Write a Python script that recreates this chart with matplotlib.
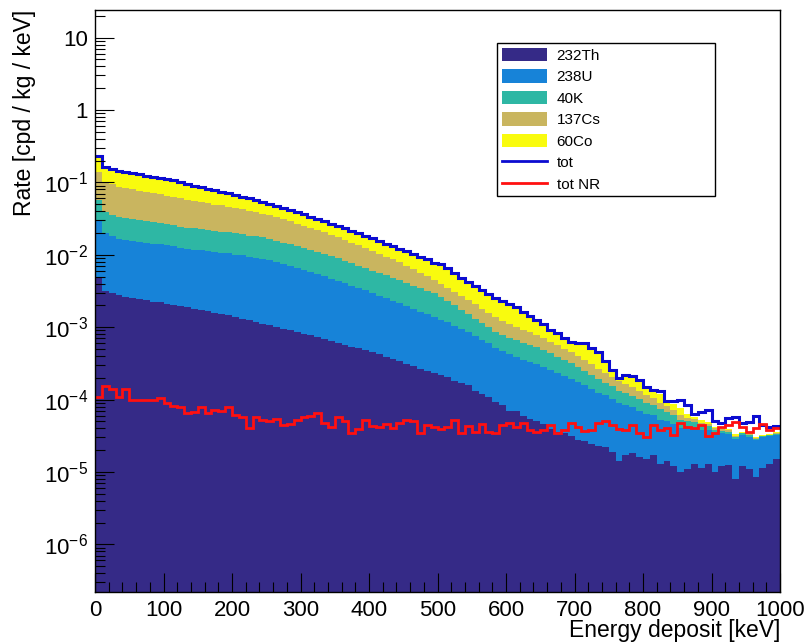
import matplotlib
matplotlib.use('Agg')
import matplotlib.pyplot as plt
import numpy as np
from matplotlib.patches import Patch
from matplotlib.lines import Line2D
from matplotlib.ticker import FixedLocator, FuncFormatter, LogLocator, MultipleLocator, NullFormatter

plt.rcParams['font.family'] = ['Liberation Sans', 'DejaVu Sans']
plt.rcParams['mathtext.fontset'] = 'custom'
plt.rcParams['mathtext.rm'] = 'Liberation Sans'
plt.rcParams['mathtext.it'] = 'Liberation Sans:italic'
plt.rcParams['mathtext.bf'] = 'Liberation Sans:bold'

# 10 keV bins, 0 - 1000 keV
edges = np.arange(0, 1001, 10)

th232 = [4.8e-3, 3.2e-3, 2.95e-3, 2.75e-3, 2.6e-3, 2.5e-3, 2.45e-3, 2.35e-3, 2.25e-3, 2.2e-3,
         2.12e-3, 2.05e-3, 1.95e-3, 1.88e-3, 1.80e-3, 1.72e-3, 1.66e-3, 1.58e-3, 1.50e-3, 1.45e-3,
         1.38e-3, 1.30e-3, 1.24e-3, 1.16e-3, 1.12e-3, 1.06e-3, 1.01e-3, 9.5e-4, 9.0e-4, 8.6e-4,
         8.1e-4, 7.7e-4, 7.2e-4, 6.8e-4, 6.4e-4, 6.0e-4, 5.7e-4, 5.4e-4, 5.1e-4, 4.8e-4,
         4.5e-4, 4.2e-4, 3.9e-4, 3.6e-4, 3.4e-4, 3.1e-4, 2.9e-4, 2.65e-4, 2.45e-4, 2.3e-4,
         2.15e-4, 2.05e-4, 1.8e-4, 1.7e-4, 1.6e-4, 1.3e-4, 1.2e-4, 1.1e-4, 9.2e-5, 8.4e-5,
         7.0e-5, 6.9e-5, 6.0e-5, 5.4e-5, 5.0e-5, 4.6e-5, 3.9e-5, 3.6e-5, 3.4e-5, 3.1e-5,
         2.8e-5, 2.7e-5, 2.4e-5, 2.3e-5, 2.2e-5, 1.9e-5, 1.4e-5, 1.7e-5, 1.8e-5, 1.6e-5,
         1.5e-5, 1.7e-5, 1.3e-5, 1.4e-5, 1.2e-5, 1.0e-5, 1.1e-5, 1.3e-5, 1.15e-5, 1.3e-5,
         1.0e-5, 1.2e-5, 1.25e-5, 0.8e-5, 1.2e-5, 1.1e-5, 0.85e-5, 1.15e-5, 1.3e-5, 1.5e-5]

u238 = [2.5e-2, 1.65e-2, 1.5e-2, 1.4e-2, 1.34e-2, 1.3e-2, 1.27e-2, 1.24e-2, 1.2e-2, 1.18e-2,
        1.14e-2, 1.1e-2, 1.06e-2, 1.03e-2, 1.0e-2, 9.8e-3, 9.6e-3, 9.4e-3, 9.2e-3, 9.0e-3,
        8.7e-3, 8.5e-3, 8.2e-3, 8.0e-3, 7.7e-3, 7.3e-3, 6.9e-3, 6.5e-3, 6.1e-3, 5.7e-3,
        5.3e-3, 5.0e-3, 4.7e-3, 4.35e-3, 4.05e-3, 3.75e-3, 3.45e-3, 3.2e-3, 2.95e-3, 2.75e-3,
        2.5e-3, 2.3e-3, 2.15e-3, 1.95e-3, 1.8e-3, 1.65e-3, 1.5e-3, 1.38e-3, 1.27e-3, 1.17e-3,
        1.06e-3, 9.6e-4, 8.7e-4, 7.8e-4, 7.0e-4, 6.2e-4, 5.5e-4, 4.9e-4, 4.3e-4, 3.9e-4,
        3.5e-4, 3.2e-4, 2.95e-4, 2.75e-4, 2.6e-4, 2.35e-4, 2.15e-4, 1.95e-4, 1.75e-4, 1.6e-4,
        1.45e-4, 1.3e-4, 1.15e-4, 1.02e-4, 9.2e-5, 8.3e-5, 7.5e-5, 6.8e-5, 6.0e-5, 5.4e-5,
        4.9e-5, 4.4e-5, 4.0e-5, 3.7e-5, 3.4e-5, 3.1e-5, 2.9e-5, 2.8e-5, 2.6e-5, 2.5e-5,
        2.35e-5, 2.2e-5, 2.1e-5, 2.05e-5, 2.0e-5, 1.95e-5, 1.9e-5, 1.85e-5, 1.8e-5, 1.75e-5]

k40 = [2.7e-2, 1.9e-2, 1.75e-2, 1.65e-2, 1.58e-2, 1.52e-2, 1.46e-2, 1.41e-2, 1.37e-2, 1.33e-2,
       1.29e-2, 1.25e-2, 1.2e-2, 1.16e-2, 1.13e-2, 1.1e-2, 1.07e-2, 1.04e-2, 1.02e-2, 9.9e-3,
       9.6e-3, 9.3e-3, 9.0e-3, 8.8e-3, 8.5e-3, 8.1e-3, 7.7e-3, 7.3e-3, 7.0e-3, 6.6e-3,
       6.2e-3, 5.8e-3, 5.4e-3, 5.1e-3, 4.9e-3, 4.6e-3, 4.2e-3, 3.9e-3, 3.6e-3, 3.35e-3,
       3.1e-3, 2.9e-3, 2.7e-3, 2.5e-3, 2.3e-3, 2.1e-3, 1.95e-3, 1.8e-3, 1.68e-3, 1.55e-3,
       1.35e-3, 1.15e-3, 9.5e-4, 7.8e-4, 6.5e-4, 5.5e-4, 4.6e-4, 3.9e-4, 3.3e-4, 3.0e-4,
       2.8e-4, 2.7e-4, 2.55e-4, 2.4e-4, 2.2e-4, 2.0e-4, 1.8e-4, 1.6e-4, 1.4e-4, 1.25e-4,
       1.1e-4, 9.5e-5, 8.0e-5, 6.8e-5, 5.8e-5, 5.0e-5, 4.4e-5, 3.9e-5, 3.5e-5, 3.1e-5,
       2.7e-5, 2.3e-5, 2.0e-5, 1.7e-5, 1.5e-5, 1.2e-5, 1.0e-5, 8e-6, 6e-6, 5e-6,
       4e-6, 3e-6, 2.5e-6, 2e-6, 2e-6, 1.5e-6, 1.2e-6, 1e-6, 1e-6, 1e-6]

cs137 = [0.083, 0.063, 0.058, 0.054, 0.051, 0.049, 0.047, 0.045, 0.043, 0.041,
         0.039, 0.037, 0.0355, 0.034, 0.0325, 0.031, 0.0295, 0.028, 0.027, 0.0258,
         0.0245, 0.0232, 0.022, 0.0208, 0.0196, 0.0184, 0.0172, 0.016, 0.0148, 0.0138,
         0.0128, 0.0119, 0.011, 0.0102, 9.4e-3, 8.6e-3, 7.8e-3, 7.1e-3, 6.4e-3, 5.8e-3,
         5.2e-3, 4.7e-3, 4.2e-3, 3.8e-3, 3.4e-3, 3.0e-3, 2.6e-3, 2.2e-3, 1.85e-3, 1.55e-3,
         1.35e-3, 1.2e-3, 1.08e-3, 9.8e-4, 8.8e-4, 7.8e-4, 6.8e-4, 5.9e-4, 5.1e-4, 4.5e-4,
         4.0e-4, 3.5e-4, 3.1e-4, 2.8e-4, 2.5e-4, 2.2e-4, 1.95e-4, 1.75e-4, 1.55e-4, 1.4e-4,
         1.2e-4, 1.05e-4, 9e-5, 7.5e-5, 6.2e-5, 5.2e-5, 4.5e-5, 3.9e-5, 3.4e-5, 2.9e-5,
         2.4e-5, 2.0e-5, 1.6e-5, 1.3e-5, 1.0e-5, 8e-6, 6e-6, 5e-6, 4e-6, 3e-6,
         2.5e-6, 2e-6, 1.5e-6, 1.2e-6, 1e-6, 1e-6, 8e-7, 8e-7, 6e-7, 6e-7]

co60 = [0.093, 0.062, 0.0605, 0.0577, 0.0572, 0.0563, 0.0552, 0.0491, 0.048, 0.0477,
        0.0466, 0.0464, 0.0419, 0.0379, 0.0341, 0.0334, 0.030, 0.0297, 0.0262, 0.0256,
        0.0231, 0.0209, 0.0208, 0.0186, 0.017, 0.0157, 0.0146, 0.0137, 0.013, 0.0122,
        0.0117, 0.0099, 0.0095, 0.0091, 0.0077, 0.0075, 0.0075, 0.0067, 0.0065, 0.0058,
        0.0058, 0.0052, 0.0047, 0.0046, 0.0042, 0.0042, 0.004, 0.0037, 0.0037, 0.0032,
        0.0035, 0.0031, 0.0025, 0.0021, 0.0018, 0.0016, 0.00146, 0.0013, 0.00117, 0.00108,
        0.00099, 0.00089, 0.0007, 0.00058, 0.00048, 0.00041, 2.8e-4, 2.6e-4, 2.1e-4, 1.6e-4,
        2.0e-4, 2.4e-4, 2.1e-4, 1.8e-4, 1.0e-4, 5e-5, 1.5e-5, 5e-5, 5e-5, 4.5e-5,
        3e-5, 2.5e-5, 3e-5, 8e-6, 1.5e-5, 1.5e-5, 8e-6, 4e-6, 4e-6, 3e-6,
        2e-6, 2e-6, 1.5e-6, 1.5e-6, 1e-6, 1e-6, 1e-6, 1e-6, 1e-6, 1e-6]

tot = [0.233, 0.164, 0.154, 0.145, 0.140, 0.136, 0.132, 0.123, 0.119, 0.116,
       0.112, 0.109, 0.102, 0.0957, 0.0897, 0.0869, 0.0815, 0.0791, 0.0741, 0.0718,
       0.0673, 0.0632, 0.0612, 0.0574, 0.0539, 0.0506, 0.0474, 0.0445, 0.0418, 0.0392,
       0.0368, 0.0334, 0.0313, 0.0294, 0.0267, 0.0251, 0.0235, 0.0214, 0.0200, 0.0182,
       0.0171, 0.0155, 0.0141, 0.0132, 0.0120, 0.0113, 0.0103, 0.00933, 0.00875, 0.00771,
       0.00746, 0.00658, 0.00561, 0.00479, 0.00421, 0.00371, 0.00327, 0.00288, 0.00253, 0.00230,
       0.00209, 0.00190, 0.00162, 0.00143, 0.00126, 0.00111, 9.1e-4, 8.3e-4, 7.1e-4, 6.2e-4,
       6.0e-4, 6.0e-4, 5.2e-4, 4.5e-4, 3.4e-4, 2.6e-4, 2.0e-4, 2.2e-4, 2.1e-4, 1.85e-4,
       1.5e-4, 1.35e-4, 1.3e-4, 9.5e-5, 9.5e-5, 1.0e-4, 8.3e-5, 6.3e-5, 6.8e-5, 7.1e-5,
       5.0e-5, 4.7e-5, 5.5e-5, 5.8e-5, 4.7e-5, 4.9e-5, 6.0e-5, 4.4e-5, 4.2e-5, 4.3e-5]

tot_nr = [1.1e-4, 1.54e-4, 1.4e-4, 1.1e-4, 1.4e-4, 9.8e-5, 9.8e-5, 9.8e-5, 1.0e-4, 1.05e-4,
          8.9e-5, 8.2e-5, 7.9e-5, 6.5e-5, 6.8e-5, 7.8e-5, 6.5e-5, 7.2e-5, 7.0e-5, 7.8e-5,
          6.2e-5, 5.8e-5, 4.0e-5, 5.7e-5, 5.2e-5, 5.0e-5, 5.4e-5, 4.4e-5, 4.6e-5, 5.2e-5,
          5.7e-5, 6.0e-5, 6.5e-5, 4.8e-5, 4.2e-5, 5.8e-5, 5.0e-5, 3.4e-5, 3.9e-5, 5.3e-5,
          4.3e-5, 4.2e-5, 4.6e-5, 4.1e-5, 4.7e-5, 5.2e-5, 5.1e-5, 3.4e-5, 4.4e-5, 4.2e-5,
          3.9e-5, 4.2e-5, 5.2e-5, 3.5e-5, 4.3e-5, 3.6e-5, 4.6e-5, 3.6e-5, 3.4e-5, 4.5e-5,
          4.8e-5, 4.2e-5, 4.7e-5, 3.8e-5, 3.6e-5, 3.8e-5, 4.5e-5, 3.4e-5, 3.8e-5, 4.7e-5,
          4.2e-5, 3.7e-5, 3.8e-5, 4.7e-5, 5.0e-5, 4.4e-5, 3.9e-5, 3.8e-5, 4.4e-5, 3.5e-5,
          3.0e-5, 4.4e-5, 3.8e-5, 4.1e-5, 3.2e-5, 4.8e-5, 4.2e-5, 4.1e-5, 4.4e-5, 3.1e-5,
          3.4e-5, 4.2e-5, 4.4e-5, 4.9e-5, 4.2e-5, 3.6e-5, 4.1e-5, 4.6e-5, 3.8e-5, 4.1e-5]

labels = ['232Th', '238U', '40K', '137Cs', '60Co']
colors = ['#352a87', '#1783d8', '#2eb7a4', '#c9b55f', '#f9fb0e']
tot_color = '#0c0cd0'
nr_color = '#ff1010'

fig = plt.figure(figsize=(8.09, 6.43), dpi=100)
ax = fig.add_axes([95/809, 1 - 592/643, 685/809, 582/643])

# stacked histogram: draw cumulative tops from the biggest down so no seams
stack = np.cumsum([th232, u238, k40, cs137, co60], axis=0)
for i in range(len(labels) - 1, -1, -1):
    ax.stairs(stack[i], edges, baseline=1e-9, fill=True, color=colors[i], lw=0)

ax.stairs(tot, edges, baseline=None, color=tot_color, lw=2.2)
ax.stairs(tot_nr, edges, baseline=None, color=nr_color, lw=2.0)

ax.set_yscale('log')
ax.set_xlim(0, 1000)
ax.set_ylim(2.2e-7, 24)

ax.yaxis.set_major_locator(FixedLocator([1e-6, 1e-5, 1e-4, 1e-3, 1e-2, 1e-1, 1, 10]))
ax.yaxis.set_minor_locator(LogLocator(base=10, subs=range(2, 10), numticks=20))
ax.yaxis.set_minor_formatter(NullFormatter())


def yfmt(v, pos):
    if v >= 1:
        return '%d' % round(v)
    return r'$10^{%d}$' % round(np.log10(v))


ax.yaxis.set_major_formatter(FuncFormatter(yfmt))
ax.xaxis.set_major_locator(MultipleLocator(100))
ax.xaxis.set_minor_locator(MultipleLocator(20))

ax.tick_params(which='both', direction='in', top=False, right=False, width=0.8, labelsize=16)
ax.tick_params(which='major', length=14)
ax.tick_params(which='minor', length=7)
ax.tick_params(axis='x', pad=6)
ax.tick_params(axis='y', pad=5)
for s in ax.spines.values():
    s.set_linewidth(1.0)

ax.set_xlabel('Energy deposit [keV]', fontsize=16.5, ha='right')
ax.xaxis.set_label_coords(1.0, -0.047)
ax.xaxis.label.set_va('top')
ax.set_ylabel('Rate [cpd / kg / keV]', fontsize=16.5, ha='right')
ax.yaxis.set_label_coords(-0.086, 1.0)

handles = [Patch(facecolor=c, edgecolor='none') for c in colors]
handles += [Line2D([], [], color=tot_color, lw=2), Line2D([], [], color=nr_color, lw=2)]
leg = ax.legend(handles, labels + ['tot', 'tot NR'], loc='upper left',
                bbox_to_anchor=(497/809, 1 - 190/643, 218/809, 147/643),
                bbox_transform=fig.transFigure, mode='expand', fontsize=11,
                frameon=True, fancybox=False, edgecolor='black', framealpha=1,
                borderpad=0.3, handlelength=3.0, handleheight=1.0,
                labelspacing=0.42, handletextpad=0.6, borderaxespad=0)
leg.get_frame().set_linewidth(1.0)

fig.savefig('out.png', dpi=100)
